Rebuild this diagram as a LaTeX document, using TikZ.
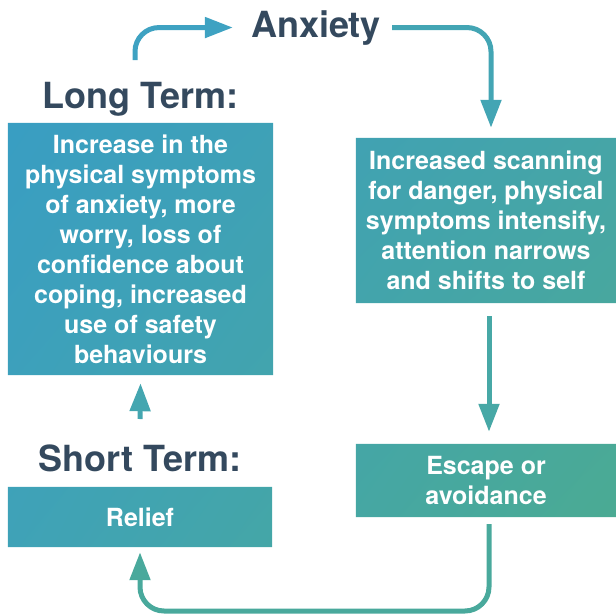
\documentclass[tikz,border=0pt]{standalone}
\usepackage{fontspec}
\setmainfont{TeX Gyre Heros}
\usetikzlibrary{arrows.meta,calc,shadings}
\pgfdeclarelayer{background}
\pgfsetlayers{background,main}
\definecolor{ink}{HTML}{34495E}
\definecolor{cTL}{HTML}{379CC6}
\definecolor{cTR}{HTML}{44A3AE}
\definecolor{cBL}{HTML}{40A3B6}
\definecolor{cBR}{HTML}{4CAC8E}
\definecolor{arA}{HTML}{3EA2C2}
\definecolor{arB}{HTML}{43A5B4}
\definecolor{arC}{HTML}{47A8A6}
\definecolor{arD}{HTML}{49A99C}
\definecolor{arE}{HTML}{44A6B0}
\tikzset{
  boxnode/.style={inner sep=0pt, align=center, text=white,
    font=\fontsize{25}{30}\selectfont\bfseries},
  titlenode/.style={inner sep=0pt, text=ink,
    font=\fontsize{36}{40}\selectfont\bfseries},
  arr/.style={line width=5pt, rounded corners=24pt,
    -{Triangle[width=20pt,length=28pt]}}
}
\begin{document}
\begin{tikzpicture}[x=1pt,y=-1pt]
\useasboundingbox (0,0) rectangle (616,614);
% boxes
\node[boxnode, minimum width=265pt, minimum height=252pt] (lt) at (140.5,249)
  {Increase in the\\physical symptoms\\of anxiety, more\\worry, loss of\\confidence about\\coping, increased\\use of safety\\behaviours};
\node[boxnode, minimum width=260pt, minimum height=165pt] (rb) at (486,220.5)
  {Increased scanning\\for danger, physical\\symptoms intensify,\\attention narrows\\and shifts to self};
\node[boxnode, minimum width=260pt, minimum height=73pt] (esc) at (486,480.5)
  {Escape or\\avoidance};
\node[boxnode, minimum width=264pt, minimum height=60pt] (rel) at (140,517)
  {Relief};
% titles
\node[titlenode, anchor=base] (anx) at (316,37) {Anxiety};
\node[titlenode, anchor=base] (ltt) at (140.5,108) {Long Term:};
\node[titlenode, anchor=base] (stt) at (140,471) {Short Term:};
% gradient fill of the boxes
\begin{pgfonlayer}{background}
\begin{scope}
\clip (lt.north west) rectangle (lt.south east)
      (rb.north west) rectangle (rb.south east)
      (esc.north west) rectangle (esc.south east)
      (rel.north west) rectangle (rel.south east);
\shade[upper left=cTL, upper right=cTR, lower left=cBL, lower right=cBR]
  (0,0) rectangle (616,614);
\end{scope}
\end{pgfonlayer}
% connectors
\coordinate (s1) at (135,60);
\draw[arr, draw=arA] (s1) |- ([xshift=-18pt]anx.west);
\draw[arr, draw=arB] ([xshift=11pt]anx.east) -| ([xshift=5pt,yshift=10pt]rb.north);
\draw[arr, draw=arC] ([xshift=3pt,yshift=-13pt]rb.south) -- ([xshift=3pt,yshift=12pt]esc.north);
\coordinate (s4) at ([xshift=3pt,yshift=-7pt]esc.south);
\coordinate (e4) at ([yshift=-5pt]rel.south);
\draw[arr, draw=arD] (s4) -- (s4 |- 0,611) -- (e4 |- 0,611) -- (e4);
\coordinate (s5) at (140,419);
\draw[arr, draw=arE] (s5) -- ([yshift=-8pt]lt.south);
\end{tikzpicture}
\end{document}
